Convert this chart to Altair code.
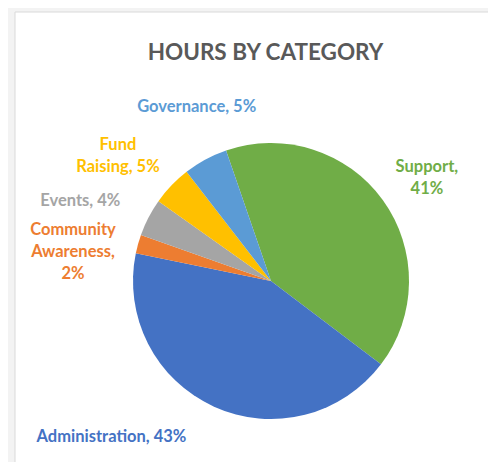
import math
import altair as alt
import pandas as pd

# ---- data ----
categories = ["Support", "Administration", "Community Awareness", "Events", "Fund Raising", "Governance"]
shares = [40.6, 42.9, 2.2, 4.4, 4.7, 5.2]          # percent of hours
colors = ["#70AD47", "#4472C4", "#ED7D31", "#A5A5A5", "#FFC000", "#5B9BD5"]
label_lines = [["Support,", "{p}%"], ["Administration, {p}%"], ["Community", "Awareness,", "{p}%"],
               ["Events, {p}%"], ["Fund", "Raising, {p}%"], ["Governance, {p}%"]]

# ---- label layout (offsets from slice mid-angle, degrees; distance from centre, px) ----
label_nudge_deg = [-0.2, 21.3, -1.1, -4.6, -2.2, 5.2]
label_radius = [193, 223, 204.5, 207, 204.7, 189]

start_deg = -19.0
W, H = 480, 454
CX, CY, R = 263, 273, 138

total = sum(shares)
cum = 0.0
mids = []
for s in shares:
    mids.append(start_deg + 360.0 * (cum + s / 2) / total)
    cum += s

df = pd.DataFrame({
    "category": categories,
    "share": shares,
    "idx": list(range(len(categories))),
})
lab = pd.DataFrame({
    "category": categories,
    "text": ["\n".join(l.format(p=round(s)) for l in lines) for lines, s in zip(label_lines, shares)],
    "ltheta": [math.radians(m + n) for m, n in zip(mids, label_nudge_deg)],
    "lr": label_radius,
})

color_scale = alt.Scale(domain=categories, range=colors)
a0 = math.radians(start_deg)

card = alt.Chart(pd.DataFrame({"k": [0]})).mark_rect(fill="white", stroke="#d9d9d9", strokeWidth=1).encode(
    x=alt.value(7), x2=alt.value(W + 20), y=alt.value(4), y2=alt.value(H + 20)
)

pie = alt.Chart(df).mark_arc(outerRadius=R).encode(
    theta=alt.Theta("share:Q", stack=True, scale=alt.Scale(range=[a0, a0 + 2 * math.pi])),
    color=alt.Color("category:N", scale=color_scale, legend=None),
    order=alt.Order("idx:Q"),
    x=alt.value(CX),
    y=alt.value(CY),
)

labels = alt.Chart(lab).mark_text(
    font="Lato", fontSize=16.5, fontWeight="bold", lineBreak="\n", lineHeight=22,
    align="center", baseline="middle",
).encode(
    theta=alt.Theta("ltheta:Q", scale=None),
    radius=alt.Radius("lr:Q", scale=None),
    text="text:N",
    color=alt.Color("category:N", scale=color_scale, legend=None),
    x=alt.value(CX),
    y=alt.value(CY),
)

title = alt.Chart(pd.DataFrame({"t": ["HOURS BY CATEGORY"]})).mark_text(
    font="Lato", fontSize=22.5, fontWeight="bold", color="#595959", align="center", baseline="middle"
).encode(text="t:N", x=alt.value(257.5), y=alt.value(45))

chart = alt.layer(card, pie, labels, title).properties(
    width=W, height=H, padding=0, autosize=alt.AutoSizeParams(type="none"), background="#f3f3f3"
).configure_view(stroke=None)

chart.save("out.html", embed_options={"renderer": "svg", "actions": False})
